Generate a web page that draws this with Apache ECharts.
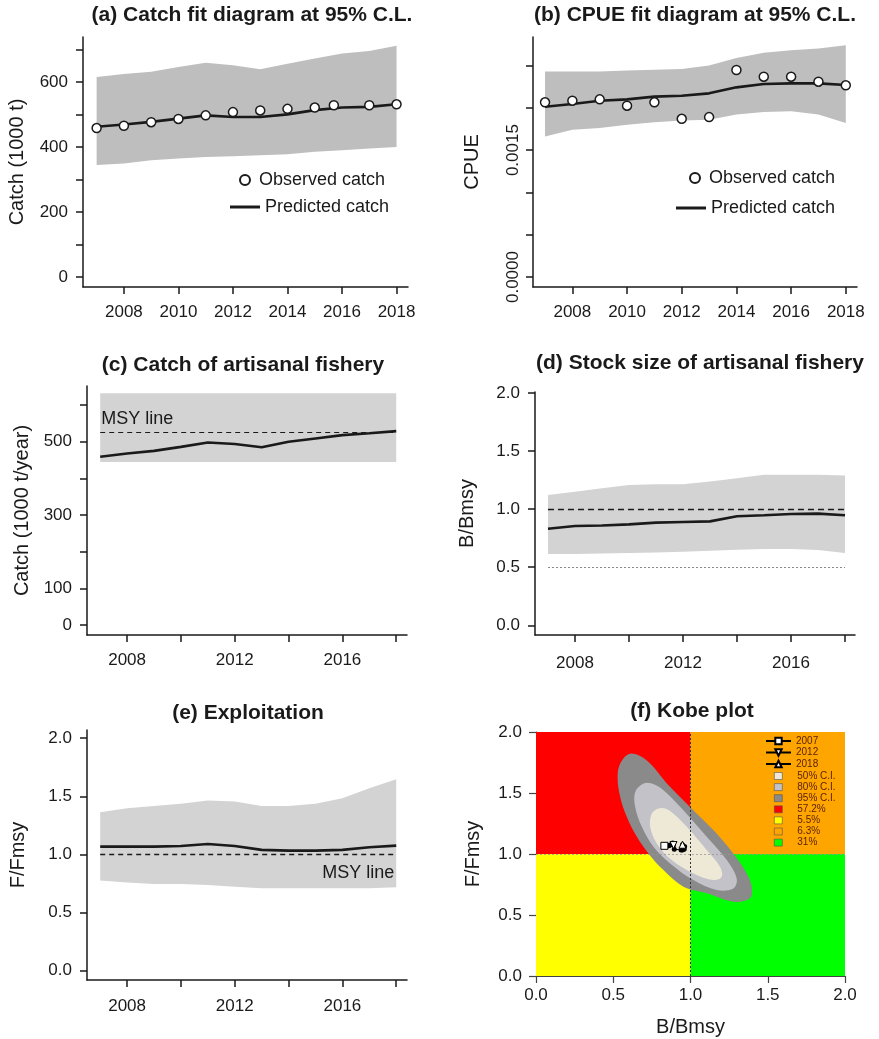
<!DOCTYPE html>
<html>
<head>
<meta charset="utf-8">
<title>Stock assessment panels</title>
<script src="https://cdn.jsdelivr.net/npm/echarts@6.0.0/dist/echarts.min.js"></script>
<style>
  html, body { margin: 0; padding: 0; background: #fff; }
  #main { width: 879px; height: 1039px; }
</style>
</head>
<body>
<div id="main"></div>
<script>
// ---- data ----
var years = [2007, 2008, 2009, 2010, 2011, 2012, 2013, 2014, 2015, 2016, 2017, 2018];
var yearTicks = [2008, 2010, 2012, 2014, 2016, 2018];
var yearLabelsAll = [2008, 2010, 2012, 2014, 2016, 2018];
var yearLabelsSparse = [2008, 2012, 2016];

// (a) catch fit (1000 t)
var catchObsYears = [2007, 2008, 2009, 2010, 2011, 2012, 2013, 2014, 2015, 2015.7, 2017, 2018];
var catchObs = [458, 465, 476, 486, 497, 507, 512, 517, 521, 528, 528, 531];
var catchPred = [462, 469, 477, 487, 497, 492, 492, 500, 513, 521, 523, 531];
var catchLo = [344, 349, 359, 364, 369, 371, 374, 377, 385, 390, 395, 400];
var catchHi = [615, 624, 631, 646, 659, 651, 639, 656, 672, 687, 695, 711];

// (b) CPUE fit
var cpueObs = [0.002065, 0.002084, 0.0021, 0.002025, 0.002065, 0.00187, 0.00189, 0.002447, 0.002368, 0.002368, 0.002309, 0.002266];
var cpuePred = [0.002013, 0.002045, 0.002084, 0.0021, 0.002132, 0.002143, 0.002171, 0.002242, 0.002281, 0.002289, 0.002289, 0.00227];
var cpueLo = [0.00166, 0.00174, 0.00176, 0.0018, 0.00183, 0.00185, 0.00186, 0.00192, 0.00195, 0.00196, 0.00192, 0.00182];
var cpueHi = [0.00243, 0.00243, 0.00243, 0.00244, 0.00245, 0.00246, 0.0025, 0.00259, 0.00265, 0.00268, 0.0027, 0.00274];

// (c) catch of artisanal fishery (1000 t/year)
var catchArt = [459, 468, 475, 486, 498, 494, 485, 500, 509, 518, 523, 529];
var catchArtLo = [445, 445, 445, 445, 445, 445, 445, 445, 445, 445, 445, 445];
var catchArtHi = [632, 632, 632, 632, 632, 632, 632, 632, 632, 632, 632, 632];
var msyCatch = 527;

// (d) B/Bmsy
var bRatio = [0.831, 0.855, 0.860, 0.869, 0.884, 0.890, 0.895, 0.939, 0.948, 0.959, 0.962, 0.948];
var bLo = [0.613, 0.613, 0.619, 0.622, 0.628, 0.634, 0.642, 0.651, 0.657, 0.657, 0.648, 0.622];
var bHi = [1.122, 1.151, 1.180, 1.209, 1.215, 1.215, 1.238, 1.267, 1.297, 1.297, 1.297, 1.291];

// (e) F/Fmsy
var fRatio = [1.067, 1.067, 1.067, 1.073, 1.090, 1.073, 1.039, 1.033, 1.033, 1.039, 1.062, 1.076];
var fLo = [0.775, 0.758, 0.746, 0.746, 0.737, 0.723, 0.709, 0.709, 0.709, 0.709, 0.709, 0.717];
var fHi = [1.363, 1.397, 1.417, 1.435, 1.463, 1.455, 1.417, 1.417, 1.435, 1.484, 1.570, 1.647];

// (f) Kobe plot: quadrants [x0, y0, x1, y1] and contour outlines [B, F]
var quadRed = [0, 1, 1, 2];
var quadYellow = [0, 0, 1, 1];
var quadOrange = [1, 1, 2, 2];
var quadGreen = [1, 0, 2, 1];
var ci95 = [[0.599, 1.818], [0.545, 1.741], [0.528, 1.632], [0.545, 1.468], [0.588, 1.304], [0.653, 1.141],
  [0.728, 1.005], [0.825, 0.868], [0.954, 0.732], [1.105, 0.678], [1.277, 0.609], [1.385, 0.637],
  [1.396, 0.732], [1.364, 0.841], [1.277, 1.005], [1.148, 1.196], [0.997, 1.386], [0.847, 1.578],
  [0.739, 1.741], [0.663, 1.809]];
var ci80 = [[0.696, 1.578], [0.642, 1.509], [0.642, 1.386], [0.685, 1.223], [0.760, 1.059], [0.868, 0.923],
  [1.019, 0.786], [1.170, 0.705], [1.277, 0.718], [1.299, 0.800], [1.235, 0.950], [1.105, 1.141],
  [0.954, 1.359], [0.825, 1.523], [0.750, 1.578]];
var ci50 = [[0.793, 1.373], [0.750, 1.332], [0.739, 1.223], [0.782, 1.087], [0.879, 0.950], [1.019, 0.841],
  [1.148, 0.786], [1.202, 0.813], [1.191, 0.895], [1.105, 1.032], [0.976, 1.223], [0.889, 1.332],
  [0.836, 1.373]];
var ratioTicks = [0, 0.5, 1, 1.5, 2];

// ---- styles ----
var ink = '#1a1a1a';
var font = 'Liberation Sans';
var bandDark = '#bebebe';
var bandLight = '#d3d3d3';

function pairs(xs, ys) {
  return xs.map(function (x, i) { return [x, ys[i]]; });
}
function triples(xs, lo, hi) {
  return xs.map(function (x, i) { return [x, lo[i], hi[i]]; });
}

// filled band between lower and upper bound
function bandShape(params, api) {
  if (params.dataIndexInside > 0) return null;
  var upper = [], lower = [];
  for (var i = 0; i < params.dataInsideLength; i++) {
    upper.push(api.coord([api.value(0, i), api.value(2, i)]));
    lower.unshift(api.coord([api.value(0, i), api.value(1, i)]));
  }
  return { type: 'polygon', shape: { points: upper.concat(lower) }, style: { fill: api.visual('color') } };
}
// closed contour
function contourShape(params, api) {
  if (params.dataIndexInside > 0) return null;
  var pts = [];
  for (var i = 0; i < params.dataInsideLength; i++) {
    pts.push(api.coord([api.value(0, i), api.value(1, i)]));
  }
  return { type: 'polygon', shape: { points: pts, smooth: 0.35 }, style: { fill: api.visual('color') } };
}
// rectangle quadrant
function rectShape(params, api) {
  var p0 = api.coord([api.value(0), api.value(1)]);
  var p1 = api.coord([api.value(2), api.value(3)]);
  return {
    type: 'rect',
    shape: { x: p0[0], y: p1[1], width: p1[0] - p0[0], height: p0[1] - p1[1] },
    style: { fill: api.visual('color') }
  };
}

function xAxisYears(grid, min, max, labels, margin) {
  return {
    type: 'value', gridIndex: grid, min: min, max: max,
    axisLine: { show: true, onZero: false, lineStyle: { color: ink, width: 1.5 } },
    axisTick: { show: true, length: 7, customValues: yearTicks, lineStyle: { color: ink, width: 1.5 } },
    axisLabel: { customValues: labels, margin: margin, fontSize: 17, color: ink, fontFamily: font,
      formatter: function (v) { return String(v); } },
    splitLine: { show: false }
  };
}
function yAxisValue(grid, min, max, ticks, labels, name, gap, fmt) {
  return {
    type: 'value', gridIndex: grid, min: min, max: max,
    name: name, nameLocation: 'middle', nameGap: gap,
    nameTextStyle: { fontSize: 20, color: ink, fontFamily: font },
    axisLine: { show: true, onZero: false, lineStyle: { color: ink, width: 1.5 } },
    axisTick: { show: true, length: 7, customValues: ticks, lineStyle: { color: ink, width: 1.5 } },
    axisLabel: { customValues: labels, margin: 15, fontSize: 17, color: ink, fontFamily: font, formatter: fmt },
    splitLine: { show: false }
  };
}
function fixed(d) {
  return function (v) { return v.toFixed(d); };
}
function panelTitle(text, cx, top) {
  return { text: text, left: cx, top: top, textAlign: 'center', padding: 0,
    textStyle: { fontSize: 21, fontWeight: 'bold', color: ink, fontFamily: font } };
}
function legendItem(names, left, top, w, h) {
  return { data: names, left: left, top: top, itemWidth: w, itemHeight: h, padding: 0,
    selectedMode: false, textStyle: { fontSize: 18, color: ink, fontFamily: font, lineHeight: 20 } };
}

var chart = echarts.init(document.getElementById('main'));

var option = {
  backgroundColor: '#fff',
  animation: false,
  title: [
    panelTitle('(a) Catch fit diagram at 95% C.L.', 252, 5),
    panelTitle('(b) CPUE fit diagram at 95% C.L.', 695, 5),
    panelTitle('(c) Catch of artisanal fishery', 243, 355),
    panelTitle('(d) Stock size of artisanal fishery', 700, 353),
    panelTitle('(e) Exploitation', 248, 703),
    panelTitle('(f) Kobe plot', 692, 701)
  ],
  legend: [
    legendItem(['Observed catch'], 239, 170, 18, 10),
    legendItem([{ name: 'Predicted catch', icon: 'rect' }], 230, 197, 30, 3),
    legendItem(['Observed catch'], 689, 168, 18, 10),
    legendItem([{ name: 'Predicted catch', icon: 'rect' }], 676, 198, 30, 3),
    { data: ['2007', '2012', '2018'], orient: 'vertical', left: 765, top: 736, itemWidth: 25, itemHeight: 8,
      itemGap: 1.5, padding: 0, selectedMode: false,
      textStyle: { fontSize: 10, lineHeight: 10, color: '#5c2400', fontFamily: font } },
    { data: ['50% C.I.', '80% C.I.', '95% C.I.', '57.2%', '5.5%', '6.3%', '31%'], orient: 'vertical',
      left: 774, top: 771, itemWidth: 8, itemHeight: 7, itemGap: 1.1, padding: 0, selectedMode: false, icon: 'rect',
      itemStyle: { borderColor: '#555', borderWidth: 0.6 },
      textStyle: { fontSize: 10, lineHeight: 10, color: '#5c2400', fontFamily: font, padding: [0, 0, 0, 10] } }
  ],
  grid: [
    { left: 83, top: 37, width: 325, height: 250 },
    { left: 533, top: 37, width: 324, height: 250 },
    { left: 87, top: 386, width: 320, height: 249 },
    { left: 535, top: 392, width: 320, height: 243 },
    { left: 87, top: 730, width: 320, height: 250 },
    { left: 536, top: 732, width: 309, height: 244 }
  ],
  xAxis: [
    xAxisYears(0, 2006.5, 2018.42, yearLabelsAll, 17),
    xAxisYears(1, 2006.56, 2018.41, yearLabelsAll, 17),
    xAxisYears(2, 2006.51, 2018.4, yearLabelsSparse, 17),
    xAxisYears(3, 2006.52, 2018.37, yearLabelsSparse, 20),
    xAxisYears(4, 2006.51, 2018.4, yearLabelsSparse, 18),
    {
      type: 'value', gridIndex: 5, min: 0, max: 2,
      name: 'B/Bmsy', nameLocation: 'middle', nameGap: 41,
      nameTextStyle: { fontSize: 20, color: ink, fontFamily: font },
      axisLine: { show: true, onZero: false, lineStyle: { color: '#444', width: 1 } },
      axisTick: { show: true, length: 7, customValues: ratioTicks, lineStyle: { color: '#444', width: 1.2 } },
      axisLabel: { customValues: ratioTicks, margin: 11, fontSize: 17, color: ink, fontFamily: font, formatter: fixed(1) },
      splitLine: { show: false }
    }
  ],
  yAxis: [
    yAxisValue(0, -31, 738, [0, 100, 200, 300, 400, 500, 600, 700], [0, 200, 400, 600], 'Catch (1000 t)', 56, null),
    (function () {
      var ax = yAxisValue(1, -0.000118, 0.002837, [0, 0.0005, 0.001, 0.0015, 0.002, 0.0025], [0, 0.0015],
        'CPUE', 51, fixed(4));
      ax.axisLabel.rotate = 90;
      ax.axisLabel.margin = 11;
      return ax;
    })(),
    yAxisValue(2, -27, 652, [0, 100, 200, 300, 400, 500, 600], [0, 100, 300, 500], 'Catch (1000 t/year)', 55, null),
    yAxisValue(3, -0.084, 2.01, ratioTicks, ratioTicks, 'B/Bmsy', 58, fixed(1)),
    yAxisValue(4, -0.08, 2.07, ratioTicks, ratioTicks, 'F/Fmsy', 59, fixed(1)),
    (function () {
      var ax = yAxisValue(5, 0, 2, ratioTicks, ratioTicks, 'F/Fmsy', 53, fixed(1));
      ax.axisLine.lineStyle = { color: '#444', width: 1 };
      ax.axisTick.lineStyle = { color: '#444', width: 1.2 };
      ax.axisLabel.margin = 14;
      return ax;
    })()
  ],
  series: [
    // (a)
    { type: 'custom', name: 'catch band', xAxisIndex: 0, yAxisIndex: 0, silent: true, z: 1,
      renderItem: bandShape, itemStyle: { color: bandDark }, data: triples(years, catchLo, catchHi) },
    { type: 'line', name: 'Predicted catch', xAxisIndex: 0, yAxisIndex: 0, symbol: 'none', z: 3,
      lineStyle: { color: ink, width: 2.6 }, itemStyle: { color: ink }, data: pairs(years, catchPred) },
    { type: 'scatter', name: 'Observed catch', xAxisIndex: 0, yAxisIndex: 0, symbolSize: 9, z: 4,
      itemStyle: { color: '#fff', borderColor: ink, borderWidth: 1.5, opacity: 1 }, data: pairs(catchObsYears, catchObs) },
    // (b)
    { type: 'custom', name: 'cpue band', xAxisIndex: 1, yAxisIndex: 1, silent: true, z: 1,
      renderItem: bandShape, itemStyle: { color: bandDark }, data: triples(years, cpueLo, cpueHi) },
    { type: 'line', name: 'Predicted catch', xAxisIndex: 1, yAxisIndex: 1, symbol: 'none', z: 3,
      lineStyle: { color: ink, width: 2.6 }, itemStyle: { color: ink }, data: pairs(years, cpuePred) },
    { type: 'scatter', name: 'Observed catch', xAxisIndex: 1, yAxisIndex: 1, symbolSize: 9, z: 4,
      itemStyle: { color: '#fff', borderColor: ink, borderWidth: 1.5, opacity: 1 }, data: pairs(years, cpueObs) },
    // (c)
    { type: 'custom', name: 'art band', xAxisIndex: 2, yAxisIndex: 2, silent: true, z: 1,
      renderItem: bandShape, itemStyle: { color: bandLight }, data: triples(years, catchArtLo, catchArtHi) },
    { type: 'line', name: 'MSY catch', xAxisIndex: 2, yAxisIndex: 2, data: [], z: 2,
      markLine: { silent: true, symbol: 'none',
        lineStyle: { color: ink, type: [5, 4], width: 1.2 },
        label: { show: true, position: 'insideStartTop', formatter: 'MSY line', distance: [1, 4],
          fontSize: 18, color: ink, fontFamily: font },
        data: [[{ coord: [years[0], msyCatch] }, { coord: [years[years.length - 1], msyCatch] }]] } },
    { type: 'line', name: 'art catch', xAxisIndex: 2, yAxisIndex: 2, symbol: 'none', z: 3,
      lineStyle: { color: ink, width: 2.6 }, data: pairs(years, catchArt) },
    // (d)
    { type: 'custom', name: 'b band', xAxisIndex: 3, yAxisIndex: 3, silent: true, z: 1,
      renderItem: bandShape, itemStyle: { color: bandLight }, data: triples(years, bLo, bHi) },
    { type: 'line', name: 'b refs', xAxisIndex: 3, yAxisIndex: 3, data: [], z: 2,
      markLine: { silent: true, symbol: 'none', label: { show: false },
        data: [
          [{ coord: [years[0], 1], lineStyle: { color: ink, type: [6, 4], width: 1.3 } },
            { coord: [years[years.length - 1], 1] }],
          [{ coord: [years[0], 0.5], lineStyle: { color: '#888', type: [2, 2], width: 1.2 } },
            { coord: [years[years.length - 1], 0.5] }]
        ] } },
    { type: 'line', name: 'b ratio', xAxisIndex: 3, yAxisIndex: 3, symbol: 'none', z: 3,
      lineStyle: { color: ink, width: 2.6 }, data: pairs(years, bRatio) },
    // (e)
    { type: 'custom', name: 'f band', xAxisIndex: 4, yAxisIndex: 4, silent: true, z: 1,
      renderItem: bandShape, itemStyle: { color: bandLight }, data: triples(years, fLo, fHi) },
    { type: 'line', name: 'f refs', xAxisIndex: 4, yAxisIndex: 4, data: [], z: 2,
      markLine: { silent: true, symbol: 'none',
        lineStyle: { color: ink, type: [5, 4], width: 1.3 },
        label: { show: true, position: 'insideEndBottom', formatter: 'MSY line', distance: [2, 10],
          fontSize: 18, color: ink, fontFamily: font },
        data: [[{ coord: [years[0], 1] }, { coord: [years[years.length - 1], 1] }]] } },
    { type: 'line', name: 'f ratio', xAxisIndex: 4, yAxisIndex: 4, symbol: 'none', z: 3,
      lineStyle: { color: ink, width: 2.6 }, data: pairs(years, fRatio) },
    // (f) Kobe plot
    { type: 'custom', name: '57.2%', xAxisIndex: 5, yAxisIndex: 5, silent: true, z: 1,
      renderItem: rectShape, itemStyle: { color: '#ff0000' }, data: [quadRed] },
    { type: 'custom', name: '5.5%', xAxisIndex: 5, yAxisIndex: 5, silent: true, z: 1,
      renderItem: rectShape, itemStyle: { color: '#ffff00' }, data: [quadYellow] },
    { type: 'custom', name: '6.3%', xAxisIndex: 5, yAxisIndex: 5, silent: true, z: 1,
      renderItem: rectShape, itemStyle: { color: '#ffa500' }, data: [quadOrange] },
    { type: 'custom', name: '31%', xAxisIndex: 5, yAxisIndex: 5, silent: true, z: 1,
      renderItem: rectShape, itemStyle: { color: '#00ff00' }, data: [quadGreen] },
    { type: 'custom', name: '95% C.I.', xAxisIndex: 5, yAxisIndex: 5, silent: true, z: 2,
      renderItem: contourShape, itemStyle: { color: '#8a8a8a' }, data: ci95 },
    { type: 'custom', name: '80% C.I.', xAxisIndex: 5, yAxisIndex: 5, silent: true, z: 2,
      renderItem: contourShape, itemStyle: { color: '#c2c2c8' }, data: ci80 },
    { type: 'custom', name: '50% C.I.', xAxisIndex: 5, yAxisIndex: 5, silent: true, z: 2,
      renderItem: contourShape, itemStyle: { color: '#eee9d6' }, data: ci50 },
    { type: 'line', name: 'kobe refs', xAxisIndex: 5, yAxisIndex: 5, data: [], z: 3,
      markLine: { silent: true, symbol: 'none', label: { show: false },
        data: [
          { xAxis: 1, lineStyle: { color: '#333', type: [2, 2], width: 1 } },
          { yAxis: 1, lineStyle: { color: '#999', type: [2, 2], width: 0.8 } }
        ] } },
    { type: 'line', name: 'trajectory', xAxisIndex: 5, yAxisIndex: 5, z: 4,
      symbol: 'circle', symbolSize: 5, itemStyle: { color: '#000' },
      lineStyle: { color: '#000', width: 1 }, data: pairs(bRatio, fRatio) },
    { type: 'line', name: '2007', xAxisIndex: 5, yAxisIndex: 5, z: 5,
      symbol: 'rect', symbolSize: 7, itemStyle: { color: '#fff', borderColor: '#000', borderWidth: 1 },
      lineStyle: { color: '#000', width: 1 }, data: [[bRatio[0], fRatio[0]]] },
    { type: 'line', name: '2012', xAxisIndex: 5, yAxisIndex: 5, z: 5,
      symbol: 'triangle', symbolRotate: 180, symbolSize: 7, itemStyle: { color: '#fff', borderColor: '#000', borderWidth: 1 },
      lineStyle: { color: '#000', width: 1 }, data: [[bRatio[5], fRatio[5]]] },
    { type: 'line', name: '2018', xAxisIndex: 5, yAxisIndex: 5, z: 5,
      symbol: 'triangle', symbolSize: 7, itemStyle: { color: '#fff', borderColor: '#000', borderWidth: 1 },
      lineStyle: { color: '#000', width: 1 }, data: [[bRatio[11], fRatio[11]]] }
  ]
};

chart.setOption(option);
</script>
</body>
</html>
